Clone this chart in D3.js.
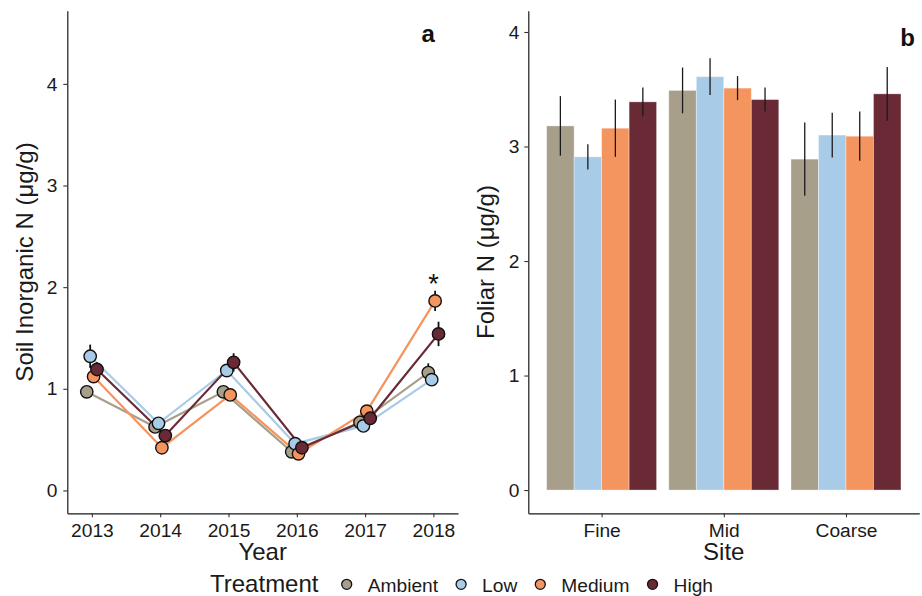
<!DOCTYPE html>
<html>
<head>
<meta charset="utf-8">
<script src="https://cdn.jsdelivr.net/npm/d3@7"></script>
<style>
  body { margin: 0; background: #fff; }
  svg { display: block; }
  text { font-family: "Liberation Sans", Arial, Helvetica, sans-serif; }
</style>
</head>
<body>
<svg id="chart" width="922" height="596"></svg>
<script>
// ---- data ----
const treatments = ["Ambient", "Low", "Medium", "High"];
const treatmentColors = ["#a89f8b", "#a8cce8", "#f4945e", "#692a36"];

// Panel a: soil inorganic N by year (mean, standard error)
const years = [2013, 2014, 2015, 2016, 2017, 2018];
const soilAmbient = [0.97, 0.625, 0.97, 0.38, 0.67, 1.16];
const soilLow     = [1.32, 0.66, 1.18, 0.46, 0.635, 1.09];
const soilMedium  = [1.12, 0.42, 0.94, 0.36, 0.78, 1.865];
const soilHigh    = [1.19, 0.54, 1.26, 0.42, 0.71, 1.54];
const soilSeAmbient = [0.05, 0.04, 0.05, 0.04, 0.05, 0.09];
const soilSeLow     = [0.115, 0.04, 0.06, 0.04, 0.04, 0.06];
const soilSeMedium  = [0.06, 0.05, 0.05, 0.04, 0.05, 0.10];
const soilSeHigh    = [0.07, 0.05, 0.09, 0.04, 0.05, 0.12];
const soilTicks = [0, 1, 2, 3, 4];

// Panel b: foliar N by site (mean, standard error)
const sites = ["Fine", "Mid", "Coarse"];
const foliarAmbient = [3.18, 3.49, 2.89];
const foliarLow     = [2.91, 3.61, 3.10];
const foliarMedium  = [3.16, 3.51, 3.09];
const foliarHigh    = [3.39, 3.41, 3.46];
const foliarSeAmbient = [0.26, 0.20, 0.32];
const foliarSeLow     = [0.11, 0.16, 0.195];
const foliarSeMedium  = [0.25, 0.105, 0.215];
const foliarSeHigh    = [0.125, 0.105, 0.235];
const foliarTicks = [0, 1, 2, 3, 4];

const soilMeans = [soilAmbient, soilLow, soilMedium, soilHigh];
const soilSes = [soilSeAmbient, soilSeLow, soilSeMedium, soilSeHigh];
const foliarMeans = [foliarAmbient, foliarLow, foliarMedium, foliarHigh];
const foliarSes = [foliarSeAmbient, foliarSeLow, foliarSeMedium, foliarSeHigh];

const colorOf = d3.scaleOrdinal().domain(treatments).range(treatmentColors);

const svg = d3.select("#chart");
const TICK_FONT = "19.2px";
const TITLE_FONT = "24px";
const TEXT_COLOR = "#1a1a1a";

function styleAxis(g) {
  g.select(".domain").attr("stroke", "#1a1a1a").attr("stroke-width", 1.2);
  g.selectAll(".tick line").attr("stroke", "#333").attr("stroke-width", 1.1);
  g.selectAll(".tick text").attr("fill", TEXT_COLOR).style("font-size", TICK_FONT);
}

// ================= Panel a =================
const aLeft = 67.3, aRight = 458, aTop = 10.7, aBottom = 513.3;
const xA = d3.scaleLinear().domain([2012.64, 2018.36]).range([aLeft, aRight]);
const yA = d3.scaleLinear().domain([-0.225, 4.72]).range([aBottom, aTop]);
const dodge = d3.scalePoint().domain(treatments).range([-0.075, 0.075]);

const gA = svg.append("g");

gA.append("g")
  .attr("transform", `translate(${aLeft},0)`)
  .call(d3.axisLeft(yA).tickValues(soilTicks).tickFormat(d3.format("d"))
        .tickSize(4).tickSizeOuter(0).tickPadding(6))
  .call(styleAxis);

gA.append("g")
  .attr("transform", `translate(0,${aBottom})`)
  .call(d3.axisBottom(xA).tickValues(years).tickFormat(d3.format("d"))
        .tickSize(4).tickSizeOuter(0).tickPadding(6))
  .call(styleAxis);

const soilSeries = treatments.map((t, i) => ({
  t,
  pts: years.map((yr, j) => ({ yr, v: soilMeans[i][j], se: soilSes[i][j] }))
}));

const line = d3.line()
  .x(d => xA(d.yr + dodge(d.t)))
  .y(d => yA(d.v));

// connecting lines
gA.append("g").selectAll("path")
  .data(soilSeries)
  .join("path")
  .attr("fill", "none")
  .attr("stroke", d => colorOf(d.t))
  .attr("stroke-width", 2.2)
  .attr("d", d => line(d.pts.map(p => ({ ...p, t: d.t }))));

const allPts = soilSeries.flatMap(s => s.pts.map(p => ({ ...p, t: s.t })));

// error bars
gA.append("g").selectAll("line")
  .data(allPts)
  .join("line")
  .attr("x1", d => xA(d.yr + dodge(d.t)))
  .attr("x2", d => xA(d.yr + dodge(d.t)))
  .attr("y1", d => yA(d.v - d.se))
  .attr("y2", d => yA(d.v + d.se))
  .attr("stroke", "#111")
  .attr("stroke-width", 1.8);

// points
gA.append("g").selectAll("circle")
  .data(allPts)
  .join("circle")
  .attr("cx", d => xA(d.yr + dodge(d.t)))
  .attr("cy", d => yA(d.v))
  .attr("r", 6.2)
  .attr("fill", d => colorOf(d.t))
  .attr("stroke", "#111")
  .attr("stroke-width", 1.4);

// significance marker above the Medium treatment in 2018
gA.append("text")
  .attr("x", xA(2018 + dodge("Medium")) - 1.5)
  .attr("y", yA(soilMedium[5] + soilSeMedium[5]) + 2)
  .attr("text-anchor", "middle")
  .attr("fill", "#111")
  .style("font-size", "27px")
  .text("*");

gA.append("text")
  .attr("x", 428.3).attr("y", 42.3)
  .attr("text-anchor", "middle")
  .attr("fill", "#111")
  .style("font-size", "24px").style("font-weight", "bold")
  .text("a");

gA.append("text")
  .attr("x", (aLeft + aRight) / 2).attr("y", 559.5)
  .attr("text-anchor", "middle")
  .attr("fill", TEXT_COLOR)
  .style("font-size", TITLE_FONT)
  .text("Year");

gA.append("text")
  .attr("transform", `translate(32.5,${(aTop + aBottom) / 2}) rotate(-90)`)
  .attr("text-anchor", "middle")
  .attr("fill", TEXT_COLOR)
  .style("font-size", TITLE_FONT)
  .text("Soil Inorganic N (μg/g)");

// ================= Panel b =================
const bLeft = 528.3, bRight = 919.3, bTop = 10.7, bBottom = 513.3;
const xB = d3.scalePoint().domain(sites).range([bLeft, bRight]).padding(0.6);
const groupW = xB.step() * 0.9;
const xInner = d3.scaleBand().domain(treatments).range([-groupW / 2, groupW / 2]);
const yB = d3.scaleLinear().domain([-0.203, 4.186]).range([bBottom, bTop]);

const gB = svg.append("g");

gB.append("g")
  .attr("transform", `translate(${bLeft},0)`)
  .call(d3.axisLeft(yB).tickValues(foliarTicks).tickFormat(d3.format("d"))
        .tickSize(4).tickSizeOuter(0).tickPadding(5))
  .call(styleAxis);

gB.append("g")
  .attr("transform", `translate(0,${bBottom})`)
  .call(d3.axisBottom(xB).tickSize(4).tickSizeOuter(0).tickPadding(6))
  .call(styleAxis);

const barData = sites.flatMap((s, j) => treatments.map((t, i) => ({
  s, t, v: foliarMeans[i][j], se: foliarSes[i][j]
})));

gB.append("g").selectAll("rect")
  .data(barData)
  .join("rect")
  .attr("x", d => xB(d.s) + xInner(d.t))
  .attr("width", xInner.bandwidth())
  .attr("y", d => yB(d.v))
  .attr("height", d => yB(0) - yB(d.v))
  .attr("fill", d => colorOf(d.t))
  .attr("stroke", "#ffffff")
  .attr("stroke-opacity", 0.45)
  .attr("stroke-width", 0.8);

gB.append("g").selectAll("line")
  .data(barData)
  .join("line")
  .attr("x1", d => xB(d.s) + xInner(d.t) + xInner.bandwidth() / 2)
  .attr("x2", d => xB(d.s) + xInner(d.t) + xInner.bandwidth() / 2)
  .attr("y1", d => yB(d.v - d.se))
  .attr("y2", d => yB(d.v + d.se))
  .attr("stroke", "#1a1a1a")
  .attr("stroke-width", 1.3);

gB.append("text")
  .attr("x", 907.5).attr("y", 46)
  .attr("text-anchor", "middle")
  .attr("fill", "#111")
  .style("font-size", "24px").style("font-weight", "bold")
  .text("b");

gB.append("text")
  .attr("x", (bLeft + bRight) / 2).attr("y", 559.5)
  .attr("text-anchor", "middle")
  .attr("fill", TEXT_COLOR)
  .style("font-size", TITLE_FONT)
  .text("Site");

gB.append("text")
  .attr("transform", `translate(493.5,${(bTop + bBottom) / 2}) rotate(-90)`)
  .attr("text-anchor", "middle")
  .attr("fill", TEXT_COLOR)
  .style("font-size", TITLE_FONT)
  .text("Foliar N (μg/g)");

// ================= Legend =================
const legend = svg.append("g");
legend.append("text")
  .attr("x", 210).attr("y", 591.5)
  .attr("fill", TEXT_COLOR)
  .style("font-size", TITLE_FONT)
  .text("Treatment");

let cx = 346.7;
const legendY = 584.3;
treatments.forEach(t => {
  legend.append("circle")
    .attr("cx", cx).attr("cy", legendY).attr("r", 5)
    .attr("fill", colorOf(t))
    .attr("stroke", "#111").attr("stroke-width", 1.3);
  const label = legend.append("text")
    .attr("x", cx + 21).attr("y", 591.5)
    .attr("fill", TEXT_COLOR)
    .style("font-size", TICK_FONT)
    .text(t);
  cx = cx + 21 + label.node().getComputedTextLength() + 23;
});
</script>
</body>
</html>
